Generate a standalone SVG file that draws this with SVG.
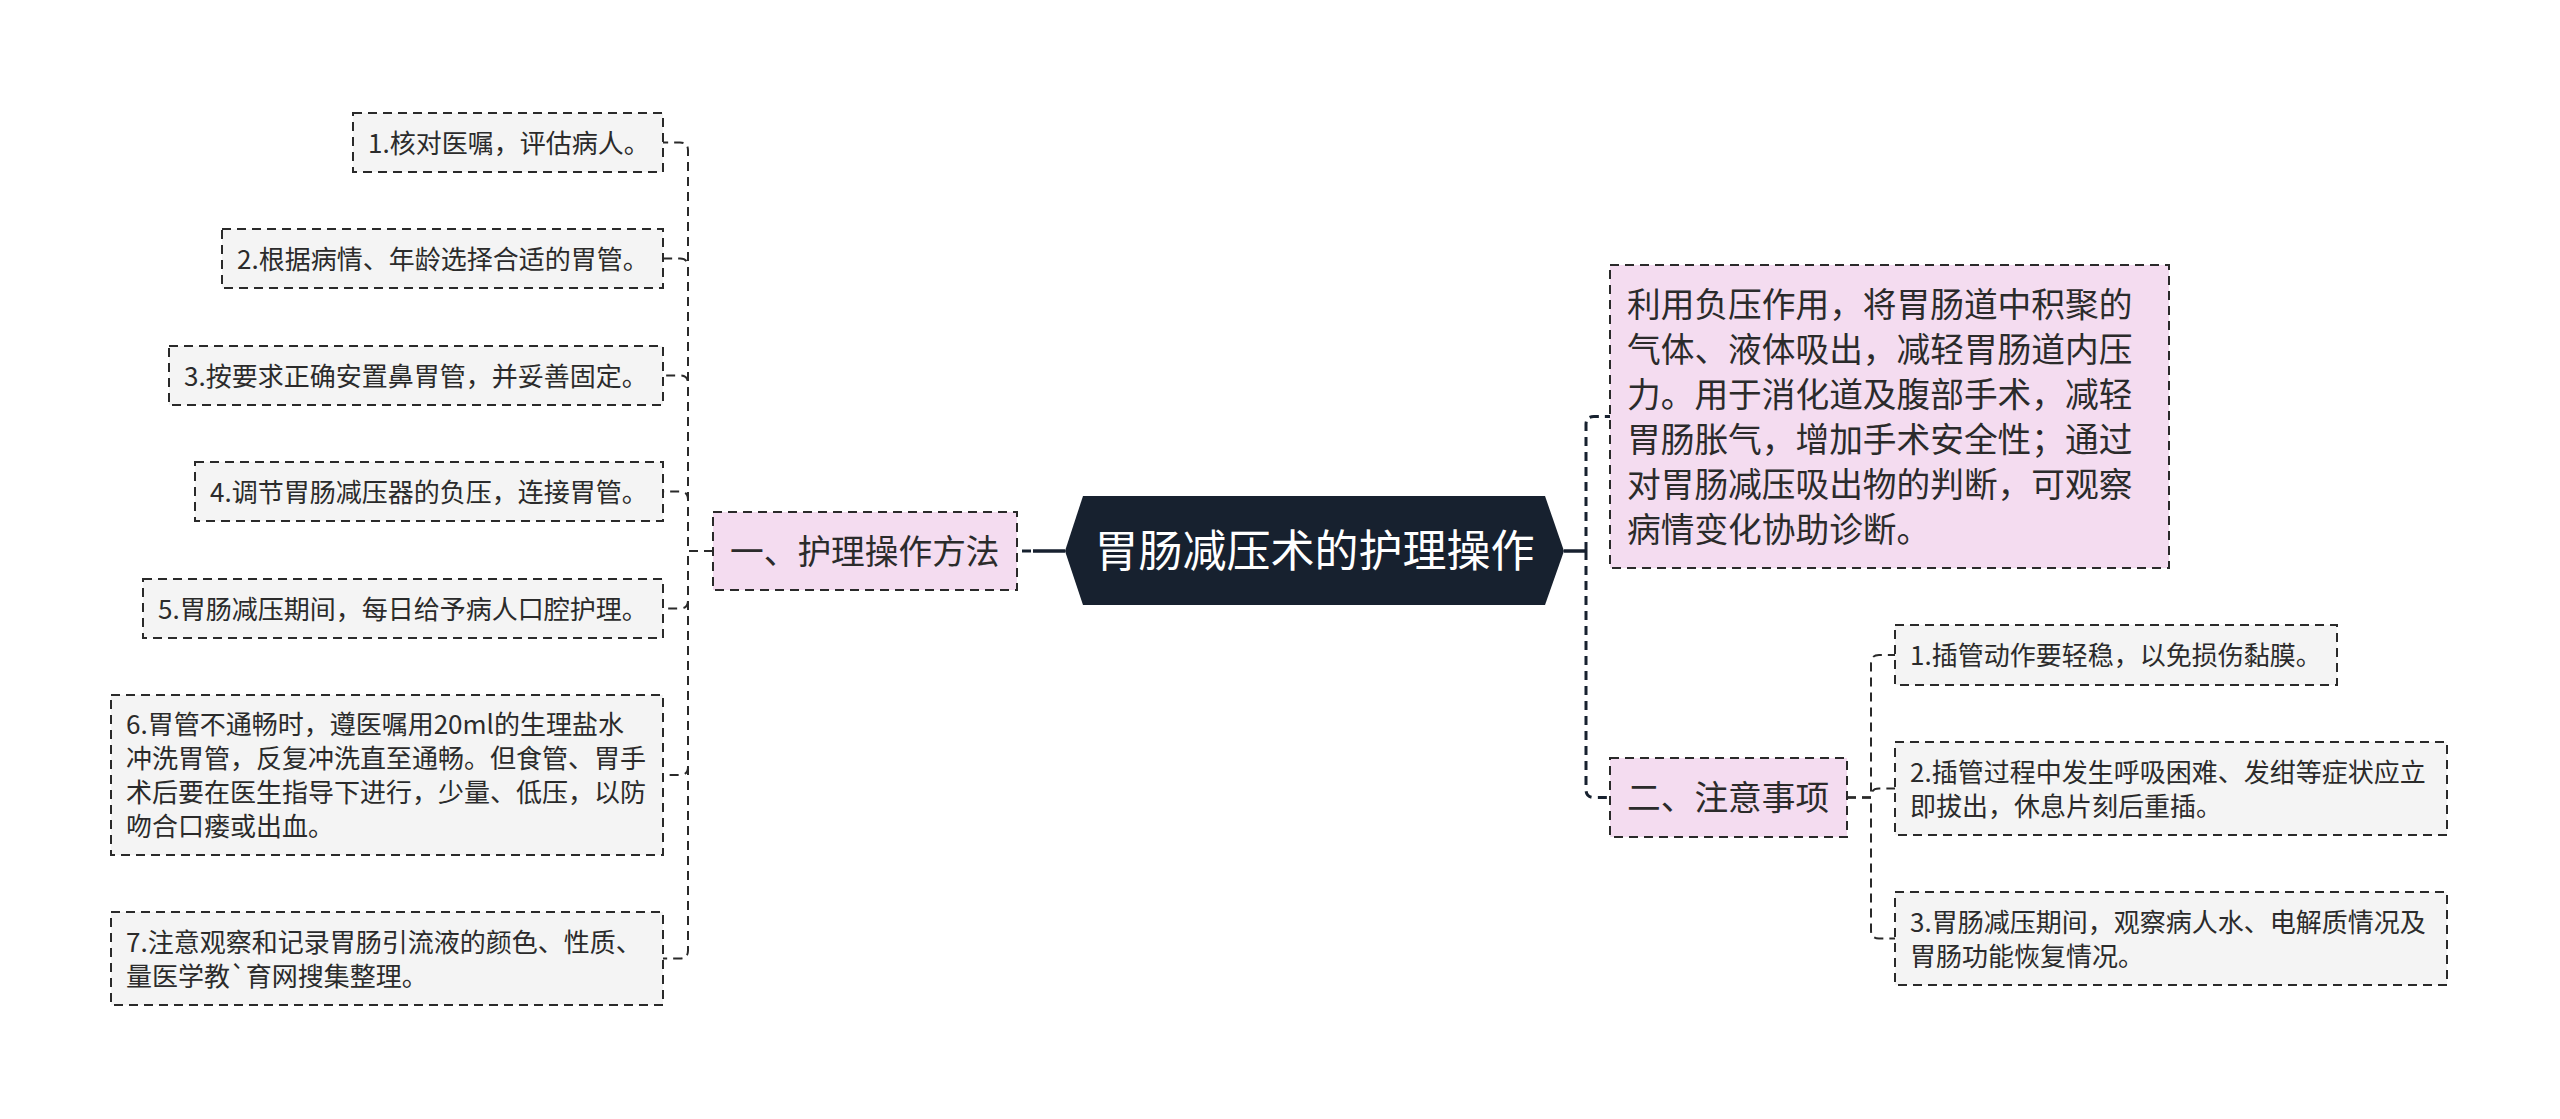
<svg xmlns="http://www.w3.org/2000/svg" width="2560" height="1119" viewBox="0 0 2560 1119">
<style>
.bg{fill:#ffffff}
.box{fill:#f4f4f4;stroke:#2a2a2a;stroke-width:2;stroke-dasharray:9 6}
.pink{fill:#f4dcf0;stroke:#2a2a2a;stroke-width:2;stroke-dasharray:9 6}
.root{fill:#17212f}
.t{font-family:"Noto Sans CJK SC","Noto Sans",sans-serif;fill:#2b2b2b}
.s{font-size:26px}
.m{font-size:33.7px}
.r{font-size:44px;fill:#ffffff}
.c{fill:none;stroke:#2a2a2a;stroke-width:2;stroke-dasharray:9 6}
.c0{fill:none;stroke:#17212f;stroke-width:3;stroke-dasharray:9 6}
.solid{fill:none;stroke:#17212f;stroke-width:3.5}
</style>
<rect class="bg" x="0" y="0" width="2560" height="1119"/>
<g id="connectors">
  <line class="solid" x1="1065" y1="551" x2="1033" y2="551"/>
  <line class="c0" x1="1031" y1="551" x2="1017" y2="551"/>
  <line class="solid" x1="1564" y1="551" x2="1586" y2="551"/>
  <path class="c0" d="M1586 551 V424.5 Q1586 416.5 1594 416.5 H1610"/>
  <path class="c0" d="M1586 551 V789.5 Q1586 797.5 1594 797.5 H1610"/>
  <path class="c" d="M713 551 H688 V150.5 Q688 142.5 680 142.5 H663"/>
  <path class="c" d="M713 551 H688 V266.5 Q688 258.5 680 258.5 H663"/>
  <path class="c" d="M713 551 H688 V383.5 Q688 375.5 680 375.5 H663"/>
  <path class="c" d="M713 551 H688 V499.5 Q688 491.5 680 491.5 H663"/>
  <path class="c" d="M713 551 H688 V600.5 Q688 608.5 680 608.5 H663"/>
  <path class="c" d="M713 551 H688 V767 Q688 775 680 775 H663"/>
  <path class="c" d="M713 551 H688 V950.5 Q688 958.5 680 958.5 H663"/>
  <path class="c" d="M1847 797.5 H1871 V663 Q1871 655 1879 655 H1895"/>
  <path class="c" d="M1847 797.5 H1871 V796.5 Q1871 788.5 1879 788.5 H1895"/>
  <path class="c" d="M1847 797.5 H1871 V930.5 Q1871 938.5 1879 938.5 H1895"/>
</g>
<g id="root">
  <polygon class="root" points="1065,551 1083,496 1545,496 1564,551 1545,605 1083,605"/>
  <text class="t r" x="1314.5" y="567" text-anchor="middle">胃肠减压术的护理操作</text>
</g>
<g id="n-method">
  <rect class="pink" x="713" y="512" width="304" height="78"/>
  <text class="t m" x="730" y="563.8">一、护理操作方法</text>
</g>
<g id="n-m1">
  <rect class="box" x="353" y="113" width="310" height="59"/>
  <text class="t s" x="368" y="152.5">1.核对医嘱，评估病人。</text>
</g>
<g id="n-m2">
  <rect class="box" x="222" y="229" width="441" height="59"/>
  <text class="t s" x="237" y="268.5">2.根据病情、年龄选择合适的胃管。</text>
</g>
<g id="n-m3">
  <rect class="box" x="169" y="346" width="494" height="59"/>
  <text class="t s" x="184" y="385.5">3.按要求正确安置鼻胃管，并妥善固定。</text>
</g>
<g id="n-m4">
  <rect class="box" x="195" y="462" width="468" height="59"/>
  <text class="t s" x="210" y="501.5">4.调节胃肠减压器的负压，连接胃管。</text>
</g>
<g id="n-m5">
  <rect class="box" x="143" y="579" width="520" height="59"/>
  <text class="t s" x="158" y="618.5">5.胃肠减压期间，每日给予病人口腔护理。</text>
</g>
<g id="n-m6">
  <rect class="box" x="111" y="695" width="552" height="160"/>
  <text class="t s" x="126" y="734">6.胃管不通畅时，遵医嘱用20ml的生理盐水</text>
  <text class="t s" x="126" y="768">冲洗胃管，反复冲洗直至通畅。但食管、胃手</text>
  <text class="t s" x="126" y="802">术后要在医生指导下进行，少量、低压，以防</text>
  <text class="t s" x="126" y="836">吻合口瘘或出血。</text>
</g>
<g id="n-m7">
  <rect class="box" x="111" y="912" width="552" height="93"/>
  <text class="t s" x="126" y="951.5">7.注意观察和记录胃肠引流液的颜色、性质、</text>
  <text class="t s" x="126" y="985.5">量医学教`育网搜集整理。</text>
</g>
<g id="n-desc">
  <rect class="pink" x="1610" y="265" width="559" height="303"/>
  <text class="t m" x="1627" y="316.8">利用负压作用，将胃肠道中积聚的</text>
  <text class="t m" x="1627" y="361.8">气体、液体吸出，减轻胃肠道内压</text>
  <text class="t m" x="1627" y="406.8">力。用于消化道及腹部手术，减轻</text>
  <text class="t m" x="1627" y="451.8">胃肠胀气，增加手术安全性；通过</text>
  <text class="t m" x="1627" y="496.8">对胃肠减压吸出物的判断，可观察</text>
  <text class="t m" x="1627" y="541.8">病情变化协助诊断。</text>
</g>
<g id="n-notes">
  <rect class="pink" x="1610" y="758" width="237" height="79"/>
  <text class="t m" x="1627" y="810.3">二、注意事项</text>
</g>
<g id="n-r1">
  <rect class="box" x="1895" y="625" width="442" height="60"/>
  <text class="t s" x="1910" y="665">1.插管动作要轻稳，以免损伤黏膜。</text>
</g>
<g id="n-r2">
  <rect class="box" x="1895" y="742" width="552" height="93"/>
  <text class="t s" x="1910" y="781.5">2.插管过程中发生呼吸困难、发绀等症状应立</text>
  <text class="t s" x="1910" y="815.5">即拔出，休息片刻后重插。</text>
</g>
<g id="n-r3">
  <rect class="box" x="1895" y="892" width="552" height="93"/>
  <text class="t s" x="1910" y="931.5">3.胃肠减压期间，观察病人水、电解质情况及</text>
  <text class="t s" x="1910" y="965.5">胃肠功能恢复情况。</text>
</g>
</svg>
